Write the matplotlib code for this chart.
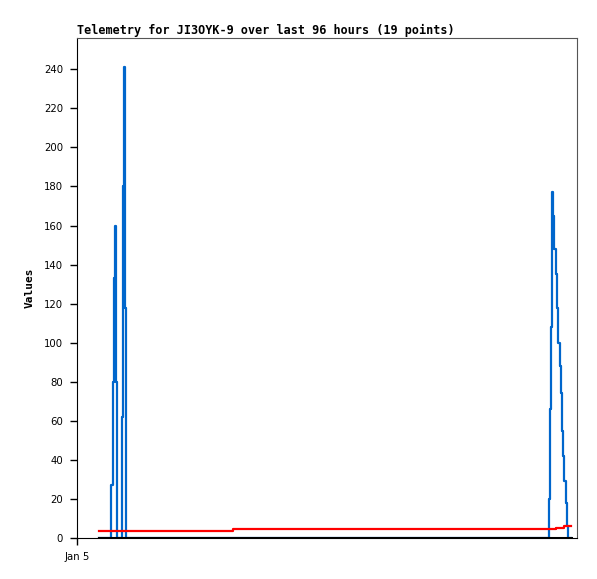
import matplotlib
matplotlib.use("Agg")
import matplotlib.pyplot as plt

# hours since Jan 5 00:00
blue_t = [4.22, 6.53, 6.59, 6.82, 7.01, 7.20, 7.39, 7.55, 7.74,
          8.64, 8.70, 8.89, 9.08, 9.27, 9.47,
          90.57, 90.66, 90.82, 91.01, 91.14, 91.26, 91.45, 91.64, 91.91, 92.22,
          92.41, 92.74, 92.93, 93.18, 93.37, 93.56, 93.83, 94.02, 94.21, 94.79]
blue_v = [0, 0, 27, 80, 133, 160, 160, 80, 0,
          0, 62, 180, 241, 118, 0,
          0, 20, 66, 108, 154, 177, 165, 148, 135, 118,
          100, 88, 74, 55, 42, 29, 18, 6, 0, 0]

red_t = [4.22, 29.95, 70.27, 92.06, 93.50, 94.79]
red_v = [3.8, 4.4, 4.8, 5.3, 6.0, 6.0]

black_t = [4.22, 94.79]
black_v = [0, 0]

title = "Telemetry for JI3OYK-9 over last 96 hours (19 points)"
yticks = list(range(0, 241, 20))

fig = plt.figure(figsize=(5.97, 5.79), dpi=100)
ax = fig.add_axes([77 / 597, 41 / 579, 500 / 597, 500 / 579])

ax.plot(blue_t, blue_v, color="#0066cc", lw=1.6, drawstyle="steps-post", zorder=2)
ax.plot(red_t, red_v, color="#ff0000", lw=1.6, drawstyle="steps-post", zorder=3)
ax.plot(black_t, black_v, color="black", lw=2.2, zorder=4)

ax.set_xlim(0, 96)
ax.set_ylim(0, 256)
ax.set_yticks(yticks)
ax.set_xticks([0])
ax.set_xticklabels(["Jan 5"])
ax.tick_params(direction="out", length=5, width=1, labelsize=7.3, pad=5, color="black")

for s in ["top", "right"]:
    ax.spines[s].set_color("#555555")
for s in ["left", "bottom"]:
    ax.spines[s].set_color("black")

ax.set_title(title, loc="left", fontfamily="DejaVu Sans Mono", fontweight="bold",
             fontsize=8.45, pad=3)
ax.set_ylabel("Values", fontfamily="DejaVu Sans Mono", fontweight="bold", fontsize=8)
ax.yaxis.set_label_coords(-0.085, 0.5)

fig.savefig("out.png", dpi=100)
